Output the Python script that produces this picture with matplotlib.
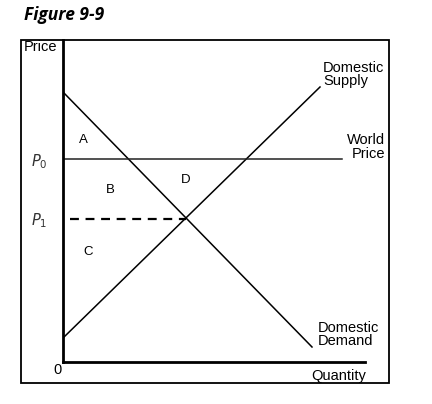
import matplotlib.pyplot as plt
from matplotlib.patches import Rectangle

plt.rcParams['font.family'] = ['Liberation Sans', 'DejaVu Sans']

# curves (quantity, price) in axis units
demand_q = [0, 9.96]
demand_p = [10.8, 0.6]
supply_q = [0, 10.28]
supply_p = [0.96, 11.0]
world_price = 8.12
p1 = 5.72
q_eq = 4.9

area_labels = ['A', 'B', 'C', 'D']
area_q = [0.8, 1.9, 1.0, 4.9]
area_p = [8.9, 6.9, 4.4, 7.3]

fig = plt.figure(figsize=(4.32, 4.04), dpi=100)
W, H = 432, 404

# outer frame
fig.patches.append(Rectangle((21 / W, 1 - 383 / H), (389 - 21) / W, (383 - 40) / H,
                             transform=fig.transFigure, fill=False, lw=1.3, ec='black'))
fig.text(24 / W, 1 - 15 / H, 'Figure 9-9', fontsize=12.5, fontweight='bold',
         fontstyle='italic', va='center', ha='left', family=['Open Sans', 'DejaVu Sans'])

ax = fig.add_axes([63 / W, 1 - 362 / H, (389 - 63) / W, (362 - 40) / H])
ax.set_xlim(0, 13.04)
ax.set_ylim(0, 12.88)
for s in ['top', 'right']:
    ax.spines[s].set_visible(False)
ax.spines['left'].set_linewidth(2)
ax.spines['bottom'].set_linewidth(2)
ax.spines['bottom'].set_bounds(0, 12.08)
ax.set_xticks([])
ax.set_yticks([])
ax.patch.set_visible(False)

ax.plot(demand_q, demand_p, color='black', lw=1.1)
ax.plot(supply_q, supply_p, color='black', lw=1.1)
ax.plot([0, 11.16], [world_price, world_price], color='#222222', lw=1.1)
ax.plot([0.28, q_eq], [p1, p1], color='black', lw=1.6, dashes=(4, 3))

for lab, q, p in zip(area_labels, area_q, area_p):
    ax.text(q, p, lab, fontsize=9.5, ha='center', va='center')

ax.text(10.4, 11.5, 'Domestic\nSupply', fontsize=10.5, ha='left', va='center', linespacing=0.95)
ax.text(12.9, 8.6, 'World\nPrice', fontsize=10.5, ha='right', va='center', linespacing=0.95)
ax.text(10.2, 1.1, 'Domestic\nDemand', fontsize=10.5, ha='left', va='center', linespacing=0.95)
ax.text(11.04, -0.56, 'Quantity', fontsize=10.5, ha='center', va='center', clip_on=False)
ax.text(-0.24, -0.3, '0', fontsize=10.5, ha='center', va='center', clip_on=False)
ax.text(-0.92, 12.6, 'Price', fontsize=10.5, ha='center', va='center', clip_on=False)
ax.text(-0.95, world_price - 0.1, '$P_0$', fontsize=10.5, ha='center', va='center',
        color='#333333', clip_on=False)
ax.text(-0.95, p1 - 0.05, '$P_1$', fontsize=10.5, ha='center', va='center',
        color='#333333', clip_on=False)

fig.savefig('out.png', dpi=100)
